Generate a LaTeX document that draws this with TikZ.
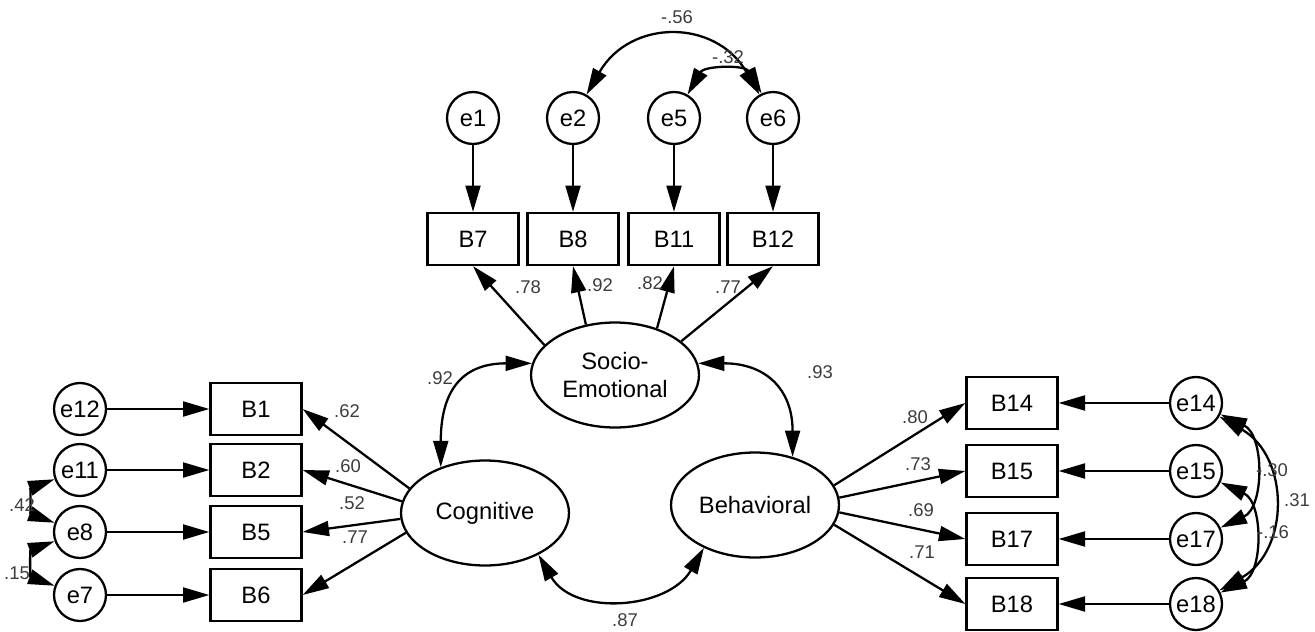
\documentclass[tikz,border=0pt]{standalone}
\usepackage{fontspec}
\setmainfont{Liberation Sans}
\usetikzlibrary{arrows.meta,positioning,shapes.geometric}
\definecolor{numc}{RGB}{60,60,60}
\newcommand{\nodefont}{\fontsize{13.5}{16}\selectfont}

\begin{document}
\begin{tikzpicture}[x=0.02cm, y=0.02cm,
  obs/.style={draw, line width=1.3pt, minimum width=1.82cm, minimum height=1.04cm, inner sep=0pt, font=\nodefont},
  err/.style={draw, circle, line width=1.3pt, minimum size=1.04cm, inner sep=0pt, font=\nodefont},
  lat/.style={draw, ellipse, line width=1.3pt, minimum width=3.36cm, minimum height=2.1cm, inner sep=0pt, align=center, font=\nodefont},
  lbl/.style={font=\fontsize{10.5}{12}\selectfont, text=numc, inner sep=1pt},
  arr/.style={line width=1.3pt, -{Triangle[length=15pt,width=8.5pt]}},
  covar/.style={line width=1.3pt, {Triangle[length=15pt,width=8.5pt]}-{Triangle[length=15pt,width=8.5pt]}}]
  \useasboundingbox (0,0) rectangle (1315,-632);
  % latent factors
  \node[lat] (se) at (615,-375) {Socio-\\Emotional};
  \node[lat] (cog) at (485,-513) {Cognitive};
  \node[lat] (beh) at (755,-505) {Behavioral};
  % top block
  \foreach \b/\e/\x in {7/1/473, 8/2/573, 11/5/674, 12/6/773} {
    \node[obs] (b\b) at (\x,-239) {B\b};
    \node[err] (e\e) at (\x,-118) {e\e};
    \draw[arr] (e\e) -- (b\b);
  }
  \foreach \a/\b in {157/7, 120/8, 48/11, 27/12}
    \draw[arr] (se.\a) -- (b\b.south);
  % left block
  \foreach \b/\e/\y in {1/12/409, 2/11/470, 5/8/532, 6/7/595} {
    \node[obs] (b\b) at (256,-\y) {B\b};
    \node[err] (e\e) at (80,-\y) {e\e};
    \draw[arr] (e\e) -- (b\b);
  }
  \foreach \a/\b in {162/1, 172/2, 184/5, 194/6}
    \draw[arr] (cog.\a) -- (b\b.east);
  % right block
  \foreach \b/\y in {14/403, 15/471, 17/539, 18/604} {
    \node[obs] (b\b) at (1012,-\y) {B\b};
    \node[err] (e\b) at (1196,-\y) {e\b};
    \draw[arr] (e\b) -- (b\b);
  }
  \foreach \a/\b in {14/14, 5/15, 355/17, 346/18}
    \draw[arr] (beh.\a) -- (b\b.west);
  % factor covariances
  \draw[covar] (se.172) to[out=180, in=90, looseness=1.35] (cog.134);
  \draw[covar] (se.8) to[out=0, in=90, looseness=1.3] (beh.52);
  \draw[covar] (cog.-38) to[out=-60, in=-120, looseness=1.1] (beh.220);
  % error covariances
  \draw[covar] (e2.60) to[out=60, in=120, looseness=1.3] (e6.120);
  \draw[covar] (e5.60) to[out=60, in=120, looseness=1.15] (e6.115);
  \draw[covar] (e11.200) to[out=200, in=160, looseness=1.5] (e8.160);
  \draw[covar] (e8.200) to[out=200, in=160, looseness=1.5] (e7.160);
  \draw[covar] (e14.-25) to[out=-25, in=25, looseness=1.1] (e17.25);
  \draw[covar] (e15.-25) to[out=-25, in=25, looseness=1.1] (e18.25);
  \draw[covar] (e14.-30) to[out=-30, in=30, looseness=1.2] (e18.30);
  % coefficients
  \foreach \n/\v/\x/\y in {l7/.78/528/287, l8/.92/600/285, l11/.82/650/283, l12/.77/728/287,
      l1/.62/347/411, l2/.60/348/466, l5/.52/352/503, l6/.77/355/537,
      l14/.80/915/417, l15/.73/918/464, l17/.69/921/510, l18/.71/922/552,
      lsc/.92/440/378, lsb/.93/820/372, lcb/.87/625/620,
      l26/-.56/677/17, l56/-.32/728/57, l118/.42/22/505, l87/.15/17/573,
      l1417/-.30/1272/470, l1418/.31/1297/500, l1518/-.16/1273/532}
    \node[lbl] (\n) at (\x,-\y) {\v};
\end{tikzpicture}
\end{document}
